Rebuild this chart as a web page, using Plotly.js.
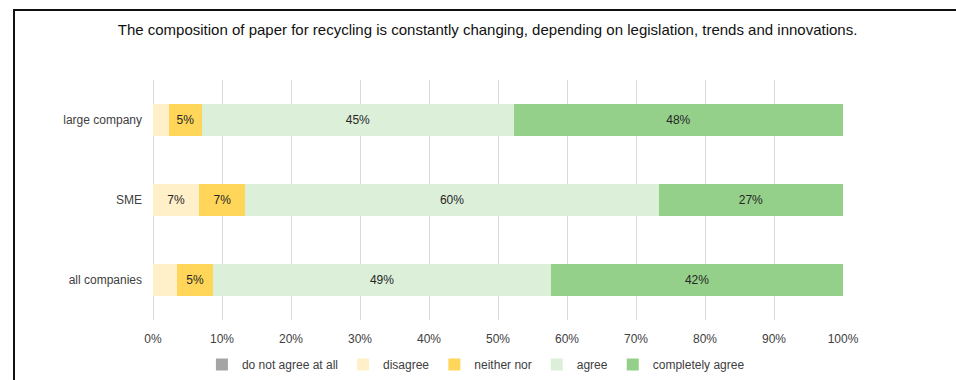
<!DOCTYPE html>
<html>
<head>
<meta charset="utf-8">
<script src="https://cdn.plot.ly/plotly-3.0.1.min.js"></script>
<style>
  html, body { margin: 0; padding: 0; background: #fff; }
  #wrap { position: relative; width: 956px; height: 380px; overflow: hidden; }
  #chart { width: 956px; height: 380px; }
  #frame { position: absolute; left: 13px; top: 9px; width: 1000px; height: 400px;
           border-left: 2px solid #111; border-top: 2px solid #111; pointer-events: none; }
</style>
</head>
<body>
<div id="wrap">
  <div id="chart"></div>
  <div id="frame"></div>
</div>
<script>
// Data (percent of respondents)
const categories = ['all companies', 'SME', 'large company'];
const seriesNames = ['do not agree at all', 'disagree', 'neither nor', 'agree', 'completely agree'];
const doNotAgree = [0, 0, 0];
const disagree = [3.5, 6.7, 2.3];
const neitherNor = [5.2, 6.7, 4.8];
const agree = [49.0, 59.9, 45.2];
const completelyAgree = [42.3, 26.7, 47.7];
const tickVals = [0, 10, 20, 30, 40, 50, 60, 70, 80, 90, 100];
const titleText = 'The composition of paper for recycling is constantly changing, depending on legislation, trends and innovations.';

const seriesValues = [doNotAgree, disagree, neitherNor, agree, completelyAgree];
const colors = ['#A5A5A5', '#FFF0C9', '#FFD659', '#DCEFD9', '#94D08A'];

const FONT = 'Liberation Sans, Arial, sans-serif';

const traces = seriesValues.map((vals, i) => ({
  type: 'bar',
  orientation: 'h',
  name: seriesNames[i],
  y: categories,
  x: vals,
  marker: { color: colors[i], line: { width: 0 } },
  text: vals.map(v => v >= 4 ? Math.round(v) + '%' : ''),
  textposition: 'inside',
  insidetextanchor: 'middle',
  textangle: 0,
  constraintext: 'none',
  textfont: { family: FONT, size: 12, color: '#262626' },
  hoverinfo: 'name+x'
}));

const layout = {
  width: 956,
  height: 380,
  paper_bgcolor: '#ffffff',
  plot_bgcolor: '#ffffff',
  margin: { l: 153, r: 113, t: 80, b: 60, autoexpand: false },
  barmode: 'stack',
  bargap: 0.59,
  font: { family: FONT, size: 12, color: '#404040' },
  title: {
    text: titleText,
    font: { family: FONT, size: 15, color: '#111111' },
    x: 0.51, xanchor: 'center',
    y: 1 - 30 / 380, yanchor: 'middle',
    xref: 'container', yref: 'container'
  },
  xaxis: {
    range: [0, 100],
    tickvals: tickVals,
    ticktext: tickVals.map(v => v + '%'),
    showgrid: true,
    gridcolor: '#D9D9D9',
    gridwidth: 1,
    zeroline: true,
    zerolinecolor: '#D9D9D9',
    zerolinewidth: 1,
    showline: false,
    ticks: '',
    ticklabelstandoff: 10,
    tickfont: { family: FONT, size: 12, color: '#404040' },
    fixedrange: true
  },
  yaxis: {
    type: 'category',
    categoryorder: 'array',
    categoryarray: categories,
    showgrid: false,
    zeroline: false,
    showline: false,
    ticks: '',
    ticklabelstandoff: 10,
    tickfont: { family: FONT, size: 12, color: '#404040' },
    fixedrange: true
  },
  showlegend: true,
  legend: {
    orientation: 'h',
    traceorder: 'normal',
    x: 0.468, xanchor: 'center',
    y: -0.125, yanchor: 'top',
    font: { family: FONT, size: 12, color: '#404040' },
    itemclick: false,
    itemdoubleclick: false
  }
};

Plotly.newPlot('chart', traces, layout, { displayModeBar: false, staticPlot: true });
</script>
</body>
</html>
